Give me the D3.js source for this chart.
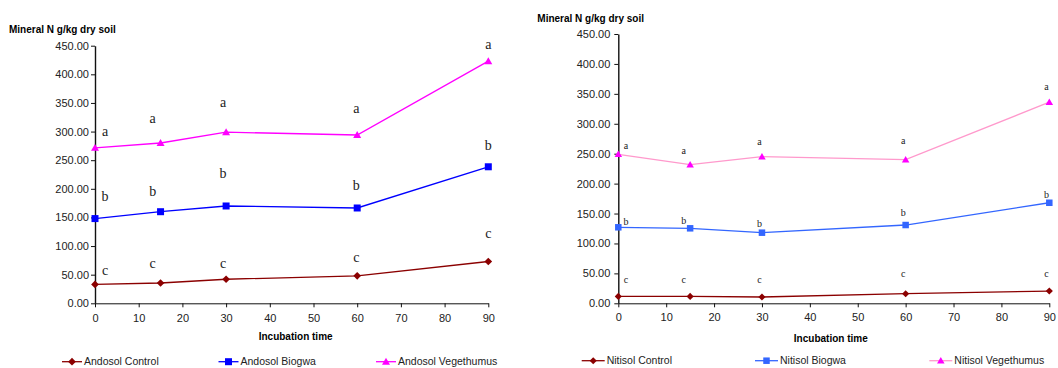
<!DOCTYPE html>
<html>
<head>
<meta charset="utf-8">
<script src="https://cdn.jsdelivr.net/npm/d3@7"></script>
<style>
  body { margin: 0; background: #fff; }
  svg { font-family: "Liberation Sans", Arial, sans-serif; }
</style>
</head>
<body>
<svg id="chart" width="1058" height="368"></svg>
<script>
// incubation days
var days = [0, 15, 30, 60, 90];
var xTicks = [0, 10, 20, 30, 40, 50, 60, 70, 80, 90];
var yTicks = [0, 50, 100, 150, 200, 250, 300, 350, 400, 450];

// Andosol
var andosolControl = [33, 35.5, 42, 48, 73];
var andosolBiogwa = [148, 160, 170, 166.5, 238.5];
var andosolVeg = [271.5, 280, 299, 294, 423];
var andosolLetters = {control: 'c', biogwa: 'b', veg: 'a'};
// where the significance letters sit (data units)
var andosolLabelX = [2.3, 13.2, 29.3, 59.8, 90];
var andosolLabelCtrl = [56.7, 69.6, 69.6, 80, 120.6];
var andosolLabelBio = [185.5, 195.4, 226.2, 205.9, 275];
var andosolLabelVeg = [300.4, 323, 349.8, 340.4, 450.7];

// Nitisol
var nitisolControl = [11.5, 11.5, 10.5, 16, 20.5];
var nitisolBiogwa = [127, 125.3, 118, 130.8, 168];
var nitisolVeg = [249, 231.6, 245, 240, 336];
var nitisolLabelX = [1.6, 13.65, 29.5, 59.5, 89.4];
var nitisolLabelCtrl = [39, 39, 39, 49, 49];
var nitisolLabelBio = [136.3, 138, 132, 150.4, 181];
var nitisolLabelVeg = [263.3, 254, 269, 270.7, 361];

var svg = d3.select('#chart');

function drawChart(opt) {
    var x = d3.scaleLinear().domain([0, 90]).range([opt.left, opt.right]);
    var y = d3.scaleLinear().domain([0, 450]).range([opt.bottom, opt.top]);
    var g = svg.append('g');

    g.append('g')
        .attr('transform', 'translate(0,' + opt.bottom + ')')
        .call(d3.axisBottom(x).tickValues(xTicks).tickSize(4).tickSizeOuter(0).tickPadding(opt.xPad))
        .call(a => a.selectAll('text').style('font-size', '11px').attr('fill', '#222'))
        .call(a => a.selectAll('line,path').attr('stroke', '#111'));

    g.append('g')
        .attr('transform', 'translate(' + opt.left + ',0)')
        .call(d3.axisLeft(y).tickValues(yTicks).tickSize(4).tickSizeOuter(0).tickPadding(opt.yPad)
            .tickFormat(d3.format('.2f')))
        .call(a => a.selectAll('text').style('font-size', '11px').attr('fill', '#222'))
        .call(a => a.selectAll('line,path').attr('stroke', '#111'))
        .call(a => a.select('path').attr('stroke-width', 1.4));

    g.append('text')
        .text('Mineral N g/kg dry soil')
        .attr('x', opt.titleX)
        .attr('y', opt.titleY)
        .style('font-size', '10px')
        .style('font-weight', 'bold');

    g.append('text')
        .text('Incubation time')
        .attr('x', (opt.left + opt.right) / 2 + opt.xTitleShift)
        .attr('y', opt.xTitleY)
        .attr('text-anchor', 'middle')
        .style('font-size', '10px')
        .style('font-weight', 'bold');

    var line = d3.line()
        .x((d, i) => x(days[i]))
        .y(d => y(d));

    opt.series.forEach(s => {
        g.append('path')
            .attr('d', line(s.values))
            .attr('fill', 'none')
            .attr('stroke', s.line)
            .attr('stroke-width', 1.3);

        s.values.forEach((v, i) => {
            drawMarker(g, s.shape, x(days[i]), y(v), s.marker, opt.msize);
        });

        s.labels.forEach((lv, i) => {
            g.append('text')
                .text(s.letter)
                .attr('x', x(opt.labelX[i]))
                .attr('y', y(lv))
                .attr('dy', '0.3em')
                .attr('text-anchor', 'middle')
                .style('font-family', '"Liberation Serif", "Times New Roman", serif')
                .style('font-size', opt.letterSize)
                .attr('fill', '#222');
        });
    });

    // legend
    opt.series.forEach((s, i) => {
        var lx = opt.legendX[i];
        g.append('line')
            .attr('x1', lx).attr('x2', lx + opt.legendLen)
            .attr('y1', opt.legendY).attr('y2', opt.legendY)
            .attr('stroke', s.line)
            .attr('stroke-width', 1.3);
        drawMarker(g, s.shape, lx + opt.legendLen / 2, opt.legendY, s.marker, opt.msize);
        g.append('text')
            .text(s.name)
            .attr('x', lx + opt.legendLen + 2)
            .attr('y', opt.legendY)
            .attr('dy', '0.35em')
            .style('font-size', '10.5px')
            .attr('fill', '#222');
    });
}

function drawMarker(g, shape, cx, cy, color, size) {
    if (shape === 'diamond') {
        var r = size * 0.55;
        g.append('path')
            .attr('d', 'M' + cx + ',' + (cy - r) + 'L' + (cx + r) + ',' + cy + 'L' + cx + ',' + (cy + r) + 'L' + (cx - r) + ',' + cy + 'Z')
            .attr('fill', color);
    } else if (shape === 'square') {
        g.append('rect')
            .attr('x', cx - size / 2).attr('y', cy - size / 2)
            .attr('width', size).attr('height', size)
            .attr('fill', color);
    } else {
        var h = size * 0.95;
        g.append('path')
            .attr('d', 'M' + cx + ',' + (cy - h * 0.6) + 'L' + (cx + size / 2 + 0.5) + ',' + (cy + h * 0.45) + 'L' + (cx - size / 2 - 0.5) + ',' + (cy + h * 0.45) + 'Z')
            .attr('fill', color);
    }
}

drawChart({
    left: 95, right: 488.3, top: 45.7, bottom: 303.3,
    xPad: 7, yPad: 2, titleX: 9, titleY: 32.5, xTitleY: 339.5, xTitleShift: 4,
    labelX: andosolLabelX, letterSize: '14px', msize: 7,
    legendX: [62, 218.5, 376], legendLen: 20, legendY: 361.7,
    series: [
        {name: 'Andosol Control', values: andosolControl, labels: andosolLabelCtrl, letter: andosolLetters.control,
            line: '#8b0000', marker: '#8b0000', shape: 'diamond'},
        {name: 'Andosol Biogwa', values: andosolBiogwa, labels: andosolLabelBio, letter: andosolLetters.biogwa,
            line: '#0000ff', marker: '#0000ff', shape: 'square'},
        {name: 'Andosol Vegethumus', values: andosolVeg, labels: andosolLabelVeg, letter: andosolLetters.veg,
            line: '#ff00ff', marker: '#ff00ff', shape: 'triangle'}
    ]
});

drawChart({
    left: 618.3, right: 1049.3, top: 34, bottom: 303.3,
    xPad: 6, yPad: 4, titleX: 537.3, titleY: 21.5, xTitleY: 341.5, xTitleShift: -3,
    labelX: nitisolLabelX, letterSize: '10px', msize: 6.5,
    legendX: [581.7, 755, 929.3], legendLen: 23, legendY: 360.7,
    series: [
        {name: 'Nitisol Control', values: nitisolControl, labels: nitisolLabelCtrl, letter: 'c',
            line: '#8b0000', marker: '#8b0000', shape: 'diamond'},
        {name: 'Nitisol Biogwa', values: nitisolBiogwa, labels: nitisolLabelBio, letter: 'b',
            line: '#3366ff', marker: '#3366ff', shape: 'square'},
        {name: 'Nitisol Vegethumus', values: nitisolVeg, labels: nitisolLabelVeg, letter: 'a',
            line: '#ff99cc', marker: '#ff00ff', shape: 'triangle'}
    ]
});
</script>
</body>
</html>
